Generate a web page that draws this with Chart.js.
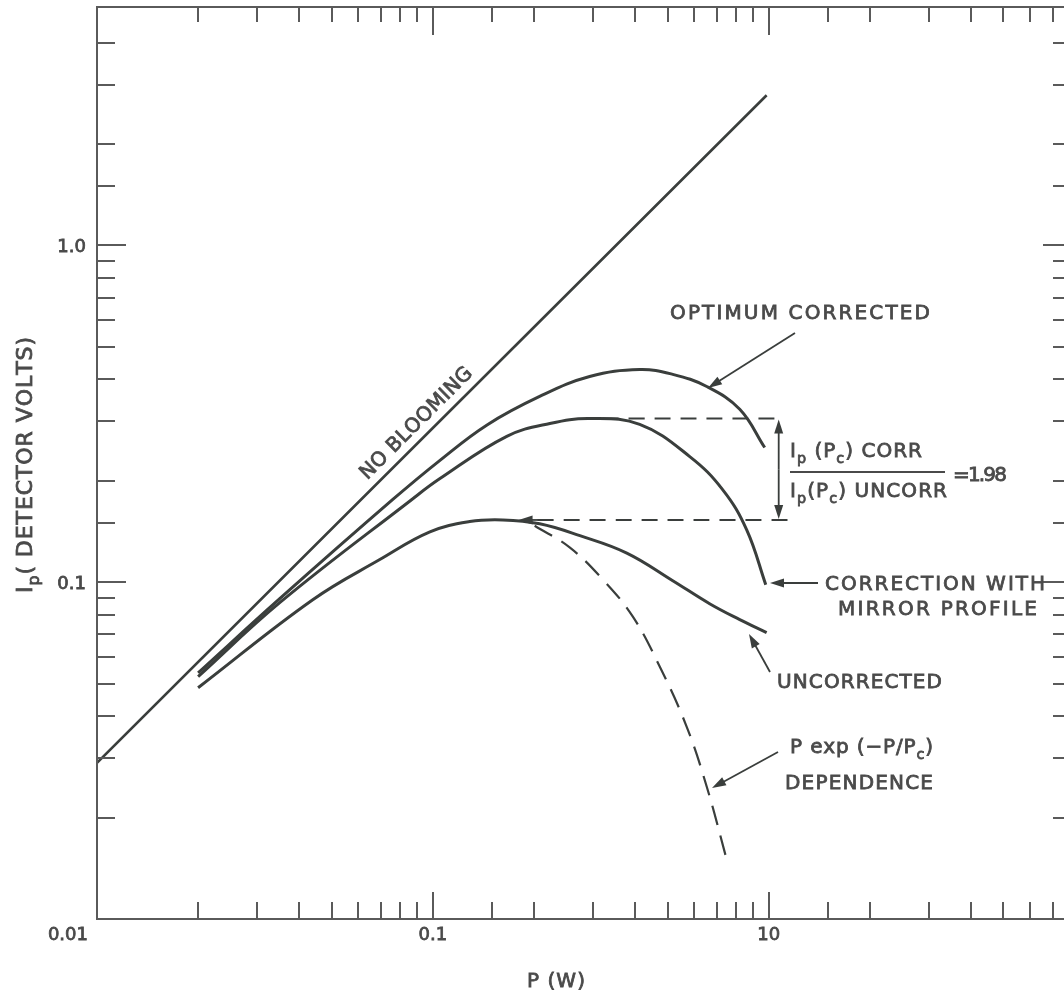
<!DOCTYPE html>
<html>
<head>
<meta charset="utf-8">
<script src="https://cdn.jsdelivr.net/npm/chart.js@4.4.1/dist/chart.umd.min.js"></script>
<style>
  html, body { margin: 0; padding: 0; background: #fff; overflow: hidden; }
  #wrap { width: 1080px; height: 992px; }
</style>
</head>
<body>
<div id="wrap"><canvas id="chart" width="1080" height="992"></canvas></div>
<script>
// P (W) and I_p (detector volts)
const noBloomP = [0.01, 0.986];
const noBloomI = [0.0291, 2.79];

const optimumP = [0.020, 0.035, 0.076, 0.105, 0.145, 0.208, 0.293, 0.413, 0.518, 0.654, 0.820, 0.973];
const optimumI = [0.0538, 0.0893, 0.176, 0.230, 0.293, 0.356, 0.408, 0.428, 0.414, 0.381, 0.326, 0.251];

const mirrorP = [0.020, 0.035, 0.0866, 0.105, 0.166, 0.223, 0.293, 0.413, 0.582, 0.730, 0.860, 0.980];
const mirrorI = [0.0524, 0.0869, 0.176, 0.203, 0.271, 0.296, 0.306, 0.294, 0.236, 0.188, 0.143, 0.0983];

const uncorrP = [0.020, 0.0439, 0.0695, 0.098, 0.1288, 0.1616, 0.208, 0.274, 0.378, 0.518, 0.667, 0.820, 0.986];
const uncorrI = [0.0486, 0.0887, 0.1167, 0.141, 0.1513, 0.153, 0.149, 0.1374, 0.122, 0.101, 0.0863, 0.0774, 0.0708];

const pexpP = [0.201, 0.256, 0.321, 0.394, 0.474, 0.570, 0.654, 0.750];
const pexpI = [0.147, 0.1266, 0.1017, 0.079, 0.0561, 0.0372, 0.0247, 0.0150];

// the two dashed reference levels for the 1.98 ratio
const ratioHiP = [0.32, 1.09];
const ratioHiI = [0.306, 0.306];
const ratioLoP = [0.205, 1.155];
const ratioLoI = [0.153, 0.153];
const ratioArrowP = 1.071;

const xTickValues = [0.01, 0.1, 1];
const xTickLabels = ['0.01', '0.1', '10'];
const yTickValues = [0.1, 1];
const yTickLabels = ['0.1', '1.0'];

const LINE = '#3a3e3c';
const INK = '#4a4a4a';
const FRAME = '#5a5a5a';
const FONT = '"DejaVu Sans", sans-serif';

function series(xs, ys) {
  return xs.map((x, i) => ({ x: x, y: ys[i] }));
}

function curve(xs, ys, width, dash) {
  return {
    data: series(xs, ys),
    borderColor: LINE,
    borderWidth: width,
    borderDash: dash || [],
    tension: 0.4,
    pointRadius: 0,
    fill: false
  };
}

// draws text so it spans x0..x1, parts like [['I'], ['p', 'sub']]
function spaced(ctx, parts, x0, x1, base, size) {
  const chars = [];
  parts.forEach(p => {
    const sub = p[1] === 'sub';
    const fs = sub ? size * 0.72 : size;
    ctx.font = fs + 'px ' + FONT;
    for (const ch of p[0]) chars.push({ ch: ch, sub: sub, fs: fs, w: ctx.measureText(ch).width });
  });
  const natural = chars.reduce((s, c) => s + c.w, 0);
  const gap = chars.length > 1 ? (x1 - x0 - natural) / (chars.length - 1) : 0;
  let x = x0;
  ctx.textAlign = 'left';
  ctx.textBaseline = 'alphabetic';
  ctx.strokeStyle = INK;
  ctx.lineWidth = 0.8;
  chars.forEach(c => {
    ctx.font = c.fs + 'px ' + FONT;
    const yy = base + (c.sub ? size * 0.32 : 0);
    ctx.fillText(c.ch, x, yy);
    ctx.strokeText(c.ch, x, yy);
    x += c.w + gap;
  });
}

function arrow(ctx, x1, y1, x2, y2) {
  const a = Math.atan2(y2 - y1, x2 - x1);
  ctx.beginPath();
  ctx.moveTo(x1, y1);
  ctx.lineTo(x2 - Math.cos(a) * 8, y2 - Math.sin(a) * 8);
  ctx.stroke();
  ctx.beginPath();
  ctx.moveTo(x2, y2);
  ctx.lineTo(x2 - Math.cos(a) * 14 + Math.sin(a) * 4.5, y2 - Math.sin(a) * 14 - Math.cos(a) * 4.5);
  ctx.lineTo(x2 - Math.cos(a) * 14 - Math.sin(a) * 4.5, y2 - Math.sin(a) * 14 + Math.cos(a) * 4.5);
  ctx.closePath();
  ctx.fill();
}

function isDecade(v) {
  const l = Math.log10(v);
  return Math.abs(l - Math.round(l)) < 1e-6;
}

const framePlugin = {
  id: 'frame',
  afterDraw(chart) {
    const ctx = chart.ctx;
    const a = chart.chartArea;
    const xs = chart.scales.x;
    const ys = chart.scales.y;
    ctx.save();

    // frame and inward tick marks
    ctx.strokeStyle = FRAME;
    ctx.lineWidth = 2;
    ctx.strokeRect(a.left, a.top, a.right - a.left, a.bottom - a.top);
    ctx.beginPath();
    xs.ticks.forEach(t => {
      const px = Math.round(xs.getPixelForValue(t.value));
      if (px <= a.left + 4 || px >= a.right - 4) return;
      const big = isDecade(t.value);
      ctx.moveTo(px, a.bottom); ctx.lineTo(px, a.bottom - (big ? 27 : 17));
      ctx.moveTo(px, a.top); ctx.lineTo(px, a.top + (big ? 28 : 15));
    });
    ys.ticks.forEach(t => {
      const py = Math.round(ys.getPixelForValue(t.value));
      if (py <= a.top + 6 || py >= a.bottom - 4) return;
      const big = isDecade(t.value);
      ctx.moveTo(a.left, py); ctx.lineTo(a.left + (big ? 29 : 18), py);
      ctx.moveTo(a.right, py); ctx.lineTo(a.right - (big ? 29 : 19), py);
    });
    ctx.stroke();

    // tick labels
    ctx.fillStyle = INK;
    xTickValues.forEach((v, i) => {
      const px = xs.getPixelForValue(v);
      ctx.font = '18px ' + FONT;
      const w = ctx.measureText(xTickLabels[i]).width;
      const left = v === xs.min ? px - 9 - w : px - w / 2;
      spaced(ctx, [[xTickLabels[i]]], left, left + w, a.bottom + 21, 18);
    });
    yTickValues.forEach((v, i) => {
      ctx.font = '18px ' + FONT;
      const w = ctx.measureText(yTickLabels[i]).width;
      const right = a.left - 11;
      spaced(ctx, [[yTickLabels[i]]], right - w, right, ys.getPixelForValue(v) + 7, 18);
    });

    // axis titles
    spaced(ctx, [['P (W)']], 527, 585, 987, 20);
    ctx.save();
    ctx.translate(32, 593);
    ctx.rotate(-Math.PI / 2);
    spaced(ctx, [['I'], ['p', 'sub'], ['( DETECTOR VOLTS)']], 0, 256, 0, 22);
    ctx.restore();

    // label along the no-blooming line
    const p0x = xs.getPixelForValue(noBloomP[0]), p0y = ys.getPixelForValue(noBloomI[0]);
    const p1x = xs.getPixelForValue(noBloomP[1]), p1y = ys.getPixelForValue(noBloomI[1]);
    const ang = Math.atan2(p1y - p0y, p1x - p0x);
    ctx.save();
    ctx.translate(415, 422);
    ctx.rotate(ang);
    spaced(ctx, [['NO BLOOMING']], -75, 75, 7.5, 20);
    ctx.restore();

    // curve labels
    spaced(ctx, [['OPTIMUM CORRECTED']], 670, 930, 319, 20);
    spaced(ctx, [['I'], ['p', 'sub'], [' (P'], ['c', 'sub'], [') CORR']], 790, 922, 457, 20);
    spaced(ctx, [['I'], ['p', 'sub'], ['(P'], ['c', 'sub'], [') UNCORR']], 790, 947, 497, 20);
    spaced(ctx, [['=1.98']], 953, 1007, 481, 20);
    spaced(ctx, [['CORRECTION WITH']], 825, 1045, 590, 20);
    spaced(ctx, [['MIRROR PROFILE']], 838, 1037, 615, 20);
    spaced(ctx, [['UNCORRECTED']], 777, 942, 688, 20);
    spaced(ctx, [['P exp (\u2212P/P'], ['c', 'sub'], [')']], 790, 933, 753, 20);
    spaced(ctx, [['DEPENDENCE']], 785, 933, 789, 20);

    // fraction bar
    ctx.strokeStyle = INK;
    ctx.lineWidth = 2;
    ctx.beginPath();
    ctx.moveTo(790, 472); ctx.lineTo(945, 472);
    ctx.stroke();

    // arrows
    ctx.strokeStyle = LINE;
    ctx.fillStyle = LINE;
    ctx.lineWidth = 1.8;
    arrow(ctx, 795, 333, 708, 388);
    arrow(ctx, 818, 583, 770, 583);
    arrow(ctx, 770, 672, 749, 634);
    arrow(ctx, 778, 752, 712, 788);
    const hiY = ys.getPixelForValue(ratioHiI[0]);
    const loY = ys.getPixelForValue(ratioLoI[0]);
    const ax = xs.getPixelForValue(ratioArrowP);
    const midY = (hiY + loY) / 2;
    arrow(ctx, ax, midY, ax, hiY + 1);
    arrow(ctx, ax, midY, ax, loY - 1);
    const tipX = xs.getPixelForValue(0.18);
    const lx = xs.getPixelForValue(ratioLoP[0]);
    arrow(ctx, lx + 4, loY, tipX, loY);

    ctx.restore();
  }
};

new Chart(document.getElementById('chart'), {
  type: 'line',
  data: {
    datasets: [
      curve(noBloomP, noBloomI, 2.6),
      curve(optimumP, optimumI, 3),
      curve(mirrorP, mirrorI, 3),
      curve(uncorrP, uncorrI, 3),
      curve(pexpP, pexpI, 2.2, [20, 11]),
      curve(ratioHiP, ratioHiI, 2, [16, 10]),
      curve(ratioLoP, ratioLoI, 2, [16, 10])
    ]
  },
  options: {
    responsive: false,
    animation: false,
    layout: { padding: { left: 97, top: 7, right: 8, bottom: 73 } },
    plugins: { legend: { display: false }, tooltip: { enabled: false } },
    scales: {
      x: {
        type: 'logarithmic', min: 0.01, max: 8,
        ticks: { display: false }, grid: { display: false }, border: { display: false },
        afterFit: s => { s.height = 0; }
      },
      y: {
        type: 'logarithmic', min: 0.01, max: 5.1,
        ticks: { display: false }, grid: { display: false }, border: { display: false },
        afterFit: s => { s.width = 0; }
      }
    }
  },
  plugins: [framePlugin]
});
</script>
</body>
</html>
